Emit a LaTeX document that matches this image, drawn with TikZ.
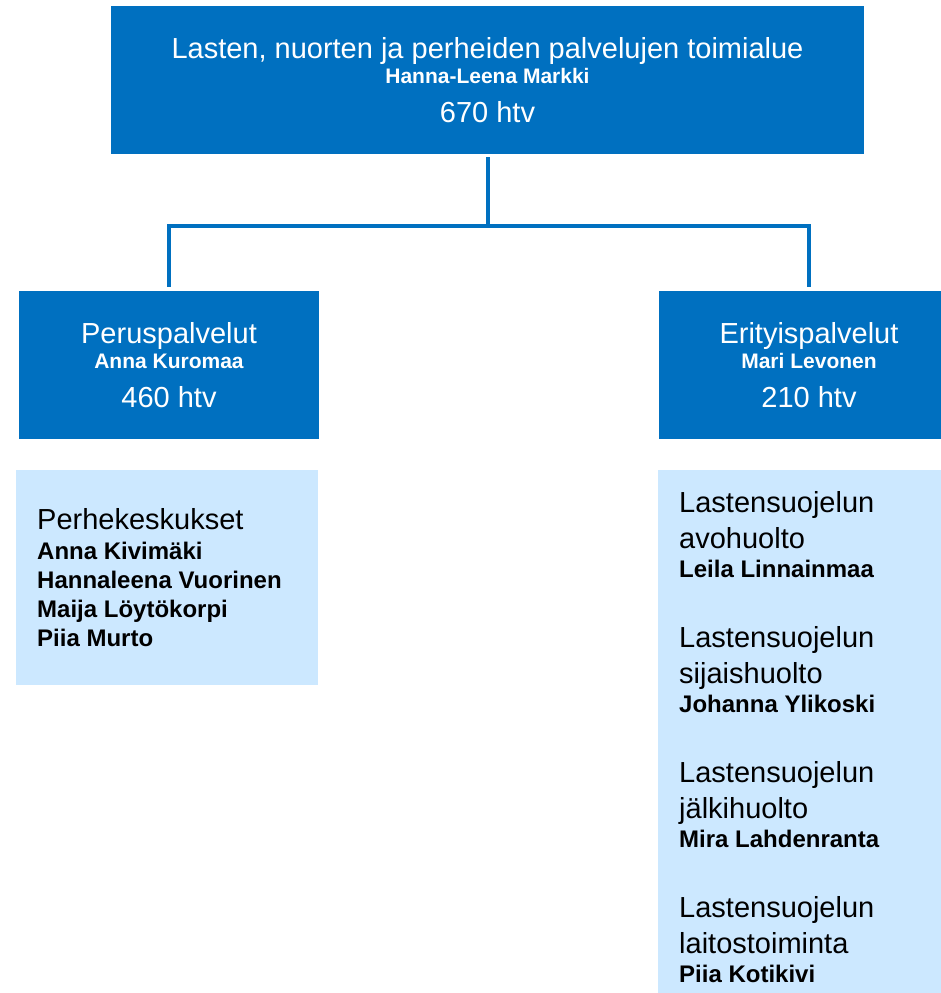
\documentclass[tikz,border=0pt]{standalone}
\usepackage{fontspec}
\setmainfont{Liberation Sans}
\setlength{\parindent}{0pt}
\definecolor{orgblue}{HTML}{0070C0}
\definecolor{orglight}{HTML}{CCE8FF}
\newcommand{\darkname}[1]{{\fontsize{21}{25}\selectfont\bfseries #1}}
\newcommand{\lightname}[1]{{\fontsize{24}{29}\selectfont\bfseries #1}}

\begin{document}
\begin{tikzpicture}[x=1pt,y=-1pt]
    \tikzstyle{unit}=[fill=orgblue,text=white,inner sep=0pt,align=center,minimum width=300pt,minimum height=148pt,font=\fontsize{29}{25}\selectfont]
    \tikzstyle{team}=[fill=orglight,text=black,inner xsep=21pt,inner ysep=0pt,align=flush left,anchor=north west]
    \tikzstyle{link}=[draw=orgblue,line width=4pt]

    \useasboundingbox (0,0) rectangle (941,993);
    \clip (0,0) rectangle (941,993);

    \node[unit,minimum width=753pt] at (487.5,80) (top) {Lasten, nuorten ja perheiden palvelujen toimialue\\ \darkname{Hanna-Leena Markki}\\[14pt] 670 htv};
    \node[unit] at (169,365) (peru) {Peruspalvelut\\ \darkname{Anna Kuromaa}\\[14pt] 460 htv};
    \node[unit] at (809,365) (erit) {Erityispalvelut\\ \darkname{Mari Levonen}\\[14pt] 210 htv};

    \node[team,text width=260pt,minimum height=215pt,font=\fontsize{29}{29}\selectfont] at (16,470) (perhe) {Perhekeskukset\\[1pt] \lightname{Anna Kivimäki}\\ \lightname{Hannaleena Vuorinen}\\ \lightname{Maija Löytökorpi}\\ \lightname{Piia Murto}};
    \node[team,text width=258pt,minimum height=533pt,font=\fontsize{29}{36}\selectfont] at (658,470) (lasu) {Lastensuojelun\\ avohuolto\\[-7pt] \lightname{Leila Linnainmaa}\\[34pt]
        Lastensuojelun\\ sijaishuolto\\[-7pt] \lightname{Johanna Ylikoski}\\[34pt]
        Lastensuojelun\\ jälkihuolto\\[-7pt] \lightname{Mira Lahdenranta}\\[34pt]
        Lastensuojelun\\ laitostoiminta\\[-7pt] \lightname{Piia Kotikivi}};

    \coordinate (split) at (487.5,226);
    \draw[link,shorten <=3pt] (top.south) -- (split);
    \draw[link,shorten >=4pt] (split) -| (peru.north);
    \draw[link,shorten >=4pt] (split) -| (erit.north);
\end{tikzpicture}
\end{document}
